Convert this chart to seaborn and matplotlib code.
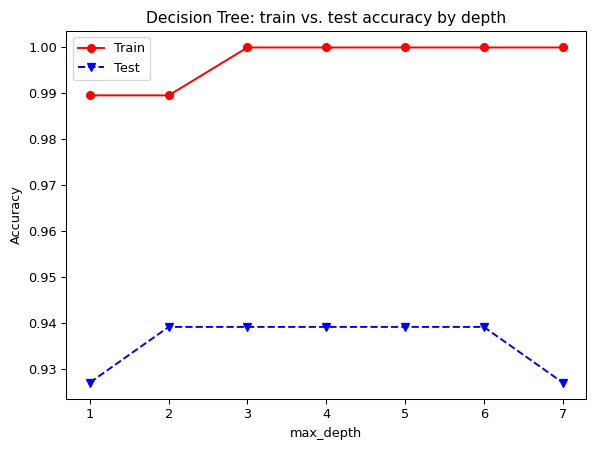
import numpy as np
import pandas as pd
import matplotlib
matplotlib.use("Agg")
import matplotlib.pyplot as plt
import seaborn as sns

# Accuracy by tree depth
depths = [1, 2, 3, 4, 5, 6, 7]
train_acc = [0.98958, 0.98958, 1.0, 1.0, 1.0, 1.0, 1.0]
test_acc = [0.92708, 0.93919, 0.93919, 0.93919, 0.93919, 0.93919, 0.92708]

df = pd.DataFrame({"max_depth": depths, "Train": train_acc, "Test": test_acc})

DPI = 93.125
fig, ax = plt.subplots(figsize=(596 / DPI, 451 / DPI), dpi=DPI)

sns.lineplot(data=df, x="max_depth", y="Train", marker="o", color="red",
             markeredgecolor="red", markersize=6, markeredgewidth=1.0,
             label="Train", ax=ax)
sns.lineplot(data=df, x="max_depth", y="Test", marker="v", color="blue",
             markeredgecolor="blue", markersize=6, markeredgewidth=1.0,
             linestyle="--", label="Test", ax=ax)

ax.set_xlabel("max_depth")
ax.set_ylabel("Accuracy")
ax.set_title("Decision Tree: train vs. test accuracy by depth")
ax.legend(loc="upper left")

fig.subplots_adjust(left=0.1112, right=0.9837, top=0.9319, bottom=0.1146)
fig.savefig("out.png", dpi=DPI)
